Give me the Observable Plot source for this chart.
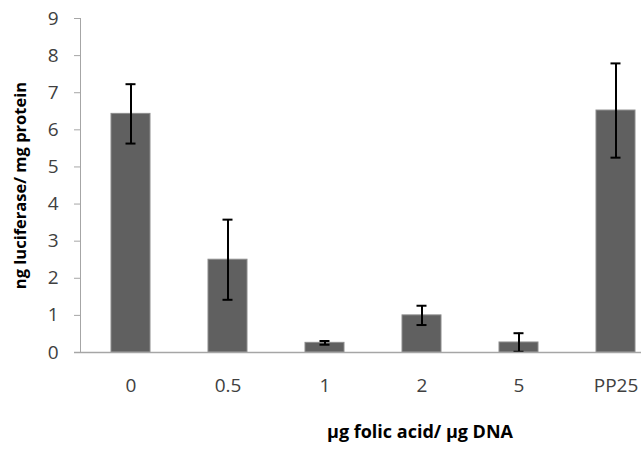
<!DOCTYPE html>
<html>
<head>
<meta charset="utf-8">
<script src="https://cdn.jsdelivr.net/npm/d3@7"></script>
<script src="https://cdn.jsdelivr.net/npm/@observablehq/plot@0.6"></script>
<style>
  html, body { margin: 0; padding: 0; background: #fff; }
  #chart svg { display: block; }
</style>
</head>
<body>
<div id="chart"></div>
<script>
const categories = ["0", "0.5", "1", "2", "5", "PP25"];
const means = [6.43, 2.50, 0.26, 1.00, 0.27, 6.52];
const errors = [0.80, 1.08, 0.05, 0.26, 0.25, 1.27];
const yTicks = [0, 1, 2, 3, 4, 5, 6, 7, 8, 9];
const xTitle = "µg folic acid/ µg DNA";
const yTitle = "ng luciferase/ mg protein";

const data = categories.map((c, i) => ({
  cat: c,
  mean: means[i],
  lo: means[i] - errors[i],
  hi: means[i] + errors[i]
}));

const font = "'Open Sans', 'Liberation Sans', sans-serif";
const axisGray = "#a6a6a6";

const chart = Plot.plot({
  width: 641,
  height: 449,
  marginLeft: 80,
  marginRight: 0,
  marginTop: 18,
  marginBottom: 97,
  style: { fontFamily: font, background: "#fff", overflow: "hidden" },
  x: { domain: categories, range: [81.5, 663.5], paddingInner: 0.6, paddingOuter: 0.3, align: 0.5, axis: null },
  y: { domain: [0, 9], axis: null },
  marks: [
    Plot.barY(data, { x: "cat", y: "mean", fill: "#606060", stroke: "#8c8c8c", strokeWidth: 1 }),
    Plot.ruleX(data, { x: "cat", y1: "lo", y2: "hi", stroke: "#000", strokeWidth: 2 }),
    Plot.tickY(data, { x: "cat", y: "lo", stroke: "#000", strokeWidth: 2, insetLeft: 14.5, insetRight: 14.5 }),
    Plot.tickY(data, { x: "cat", y: "hi", stroke: "#000", strokeWidth: 2, insetLeft: 14.5, insetRight: 14.5 }),
    Plot.frame({ anchor: "left", stroke: axisGray, strokeWidth: 1 }),
    Plot.ruleY([0], { stroke: axisGray, strokeWidth: 1.5, insetLeft: -6 }),
    Plot.axisY({ ticks: yTicks, tickSize: 6, tickPadding: 16, stroke: axisGray, color: "#404040", fontSize: 19, label: null, tickFormat: d => String(d) }),
    Plot.axisX({ tickSize: 0, tickPadding: 26, color: "#404040", fontSize: 19, label: null }),
    Plot.text([yTitle], { frameAnchor: "left", textAnchor: "middle", lineAnchor: "middle", rotate: -90, dx: -60, fontSize: 16.5, fontWeight: "bold", fill: "#000" }),
    Plot.text([xTitle], { frameAnchor: "bottom", textAnchor: "middle", lineAnchor: "middle", dy: 80, dx: 59, fontSize: 18, fontWeight: "bold", fill: "#000" })
  ]
});
document.getElementById("chart").appendChild(chart);
</script>
</body>
</html>
